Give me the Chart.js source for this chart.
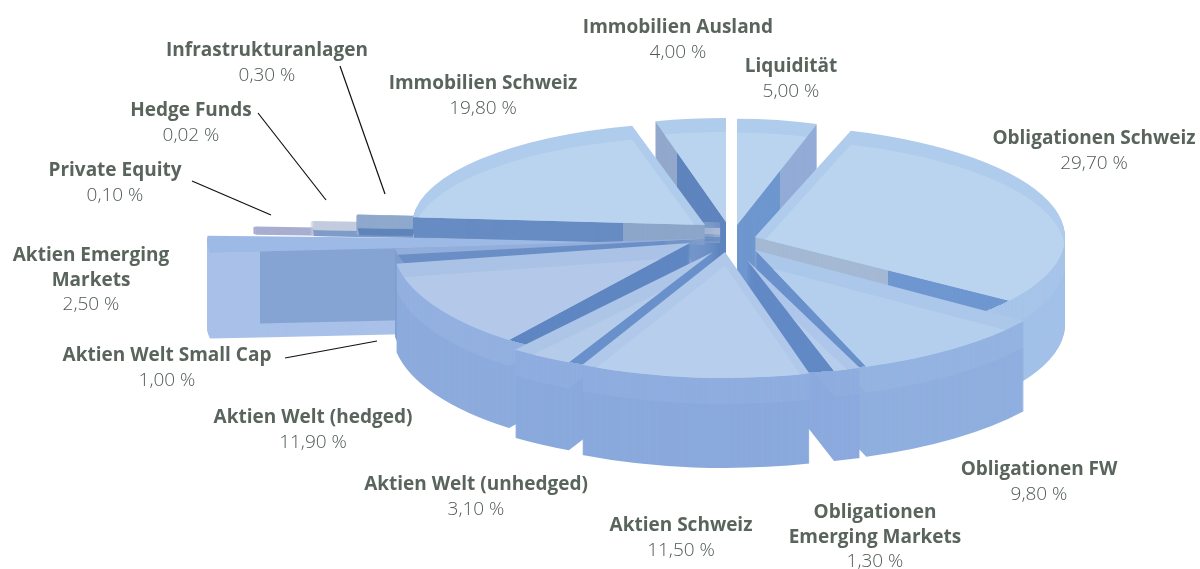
<!DOCTYPE html>
<html lang="de">
<head>
<meta charset="utf-8">
<title>Anlagestruktur</title>
<script src="https://cdn.jsdelivr.net/npm/chart.js@4"></script>
<style>
  html, body { margin: 0; background: #fff; }
  #wrap { width: 1200px; height: 569px; }
</style>
</head>
<body>
<div id="wrap"><canvas id="pie" width="1200" height="569"></canvas></div>
<script>
// Data, clockwise from 12 o'clock
const categories = ['Liquidität', 'Obligationen Schweiz', 'Obligationen FW', 'Obligationen Emerging Markets',
  'Aktien Schweiz', 'Aktien Welt (unhedged)', 'Aktien Welt (hedged)', 'Aktien Welt Small Cap',
  'Aktien Emerging Markets', 'Private Equity', 'Hedge Funds', 'Infrastrukturanlagen',
  'Immobilien Schweiz', 'Immobilien Ausland'];
const shares = [5.0, 29.7, 9.8, 1.3, 11.5, 3.1, 11.9, 1.0, 2.5, 0.1, 0.02, 0.3, 19.8, 4.0];

// Where each slice sits in the fake 3D view
const apexX = [737, 755, 755, 747, 725, 713, 690, 720, 720, 720, 720, 720, 705, 726];
const apexY = [225, 237, 250, 260, 252, 252, 243, 238, 241, 235, 229, 223, 225, 222];
const radii = [259, 310, 328, 333, 323, 326, 298, 327, 513, 465, 407, 363, 293, 285];
const tilts = [.41, .36, .378, .345, .39, .377, .41, .30, .21, .30, .30, .30, .35, .365];
const depths = [88, 88, 90, 90, 90, 88, 88, 88, 86, 6, 13, 18, 20, 88];
const paintOrder = [0, 13, 1, 8, 9, 10, 11, 12, 7, 2, 6, 3, 5, 4];

// Colours per slice
const topOuter = ['#b0ccec', '#b0ccec', '#abc7e9', '#adc6e9', '#b0c9ea', '#adc5e7', '#aac2e5', '#94aedb', '#9dbae6', '#a8aed0', '#c3cbdf', '#8fa9cd', '#b0ccec', '#b0ccec'];
const topInner = ['#bad3ef', '#bad4f0', '#b4cfee', '#b6cdec', '#b7cfec', '#b5cbea', '#b4c9e9', '#94aedb', '#9dbae6', '#a8aed0', '#c3cbdf', '#8fa9cd', '#bad4f0', '#bad3ef'];
const rimLower = ['#9bb9e2', '#a3c1e8', '#8fafdf', '#8caade', '#8aa9dc', '#8aa9dc', '#8dabdd', '#7f9ccd', '#a9c1e9', '#a8aed0', '#c3cbdf', '#8fa9cd', '#9fbce3', '#9bb9e2'];
const rimUpper = ['#9bb9e2', '#a7c4e9', '#94b3e1', '#8faddf', '#8faddf', '#8faddf', '#93b0e0', '#7f9ccd', '#a9c1e9', '#a8aed0', '#c3cbdf', '#8fa9cd', '#a3c0e5', '#9bb9e2'];
const wallLeft = ['#6f97cf', '#a4b9d4', '#6a91cb', '#628ac6', '#6f97cf', '#6a91cb', '#5f87c2', '#6a8fc6', '#a9c1e9', '#a8aed0', '#c3cbdf', '#8fa9cd', '#678cc3', '#92a9cc'];
const wallRight = ['#93acd7', '#6f97d0', '#6a91cb', '#628ac6', '#6f97cf', '#6a91cb', '#5f87c2', '#6a8fc6', '#86a4d3', '#a8aed0', '#c3cbdf', '#8fa9cd', '#8ba6c9', '#5f85be'];
const wallSplit = [780, 888, 0, 0, 0, 0, 0, 0, 260, 0, 0, 0, 623, 677];
const footFrom = [0, 0, 0, 0, 0, 0, 0, 0, 72, 0, 7, 11, 0, 0];
const footColor = ['', '', '', '', '', '', '', '', '#a9c1e9', '', '#7f9cc8', '#5f85bb', '', ''];
const hairline = [0, 0, 0, 0, 0, 0, 0, 0, 0, 3, 5, 2, 0, 0];
const rimBand = 26;
const glossDrop = 14;
const boxWall = 8; // the pulled out slice shows a flat side, no rim

// Text
const labelLines = [
  ['Liquidität'], ['Obligationen Schweiz'], ['Obligationen FW'], ['Obligationen', 'Emerging Markets'],
  ['Aktien Schweiz'], ['Aktien Welt (unhedged)'], ['Aktien Welt (hedged)'], ['Aktien Welt Small Cap'],
  ['Aktien Emerging', 'Markets'], ['Private Equity'], ['Hedge Funds'], ['Infrastrukturanlagen'],
  ['Immobilien Schweiz'], ['Immobilien Ausland']
];
const valueText = ['5,00 %', '29,70 %', '9,80 %', '1,30 %', '11,50 %', '3,10 %', '11,90 %', '1,00 %', '2,50 %', '0,10 %', '0,02 %', '0,30 %', '19,80 %', '4,00 %'];
const labelX = [791, 1094, 1039, 875, 681, 476, 313, 167, 91, 115, 191, 267, 483, 678];
const labelY = [67, 139, 470, 513, 526, 485, 418, 356, 256, 171, 111, 51, 84, 28];
const leaders = [
  [340, 66, 385, 194],
  [258, 113, 326, 200],
  [192, 181, 271, 215],
  [285, 358, 377, 341]
];

function applySlice(ctx, arc, i, drop) {
  const s = radii[i] / arc.outerRadius;
  ctx.translate(apexX[i], apexY[i] + drop);
  ctx.scale(s, s * tilts[i]);
  ctx.translate(-arc.x, -arc.y);
}

function paintArc(ctx, arc, i, color) {
  const keep = arc.options;
  arc.options = Object.assign({}, keep, {
    backgroundColor: color, borderColor: color, borderWidth: hairline[i]
  });
  arc.draw(ctx);
  arc.options = keep;
}

function paintWalls(ctx, arc, i, colorAt) {
  for (let d = depths[i]; d > 0; d--) {
    ctx.save();
    applySlice(ctx, arc, i, d);
    paintArc(ctx, arc, i, colorAt(d));
    ctx.restore();
  }
}

function paintSlice(ctx, arc, i) {
  const base = ctx.getTransform();

  // walls that lie under the top face circle are the cut faces
  const zones = wallSplit[i]
    ? [[0, wallSplit[i], wallLeft[i]], [wallSplit[i], 1200, wallRight[i]]]
    : [[0, 1200, wallLeft[i]]];
  zones.forEach(z => {
    ctx.save();
    ctx.beginPath();
    ctx.rect(z[0], 0, z[1] - z[0], 569);
    ctx.clip();
    if (i !== boxWall) {
      applySlice(ctx, arc, i, 0);
      ctx.beginPath();
      ctx.arc(arc.x, arc.y, arc.outerRadius, 0, Math.PI * 2);
      ctx.clip();
      ctx.setTransform(base);
    }
    paintWalls(ctx, arc, i, d => (footFrom[i] && d > footFrom[i] ? footColor[i] : z[2]));
    ctx.restore();
  });

  // the rest is the outer rim
  if (i !== boxWall) {
    ctx.save();
    applySlice(ctx, arc, i, 0);
    ctx.beginPath();
    ctx.rect(-5000, -5000, 10000, 10000);
    ctx.arc(arc.x, arc.y, arc.outerRadius, 0, Math.PI * 2);
    ctx.clip('evenodd');
    ctx.setTransform(base);
    paintWalls(ctx, arc, i, d => (d > rimBand ? rimLower[i] : rimUpper[i]));
    ctx.restore();
  }

  // top face and its lighter inner part
  ctx.save();
  applySlice(ctx, arc, i, 0);
  paintArc(ctx, arc, i, topOuter[i]);
  ctx.beginPath();
  ctx.moveTo(arc.x, arc.y);
  ctx.arc(arc.x, arc.y, arc.outerRadius, arc.startAngle, arc.endAngle);
  ctx.closePath();
  ctx.clip();
  ctx.setTransform(base);
  applySlice(ctx, arc, i, glossDrop);
  paintArc(ctx, arc, i, topInner[i]);
  ctx.restore();
}

const glassPie = {
  id: 'glassPie',
  beforeDatasetDraw(chart, args) {
    const ctx = chart.ctx;
    const arcs = args.meta.data;
    paintOrder.forEach(i => paintSlice(ctx, arcs[i], i));
    return false;
  }
};

const outerLabels = {
  id: 'outerLabels',
  afterDraw(chart) {
    const ctx = chart.ctx;
    ctx.save();
    ctx.strokeStyle = '#111';
    ctx.lineWidth = 1.2;
    leaders.forEach(l => {
      ctx.beginPath();
      ctx.moveTo(l[0], l[1]);
      ctx.lineTo(l[2], l[3]);
      ctx.stroke();
    });
    ctx.textAlign = 'center';
    ctx.textBaseline = 'middle';
    labelLines.forEach((lines, i) => {
      ctx.font = 'bold 19px "Open Sans"';
      ctx.fillStyle = '#59645c';
      lines.forEach((t, k) => ctx.fillText(t, labelX[i], labelY[i] + k * 24.5));
      ctx.font = '300 19px "Open Sans"';
      ctx.fillStyle = '#4f5a52';
      ctx.fillText(valueText[i], labelX[i], labelY[i] + lines.length * 24.5);
    });
    ctx.restore();
  }
};

new Chart(document.getElementById('pie'), {
  type: 'pie',
  data: {
    labels: categories,
    datasets: [{ data: shares, borderWidth: 0, clip: false }]
  },
  options: {
    responsive: false,
    animation: false,
    radius: 300,
    plugins: { legend: { display: false }, tooltip: { enabled: false } }
  },
  plugins: [glassPie, outerLabels]
});
</script>
</body>
</html>
